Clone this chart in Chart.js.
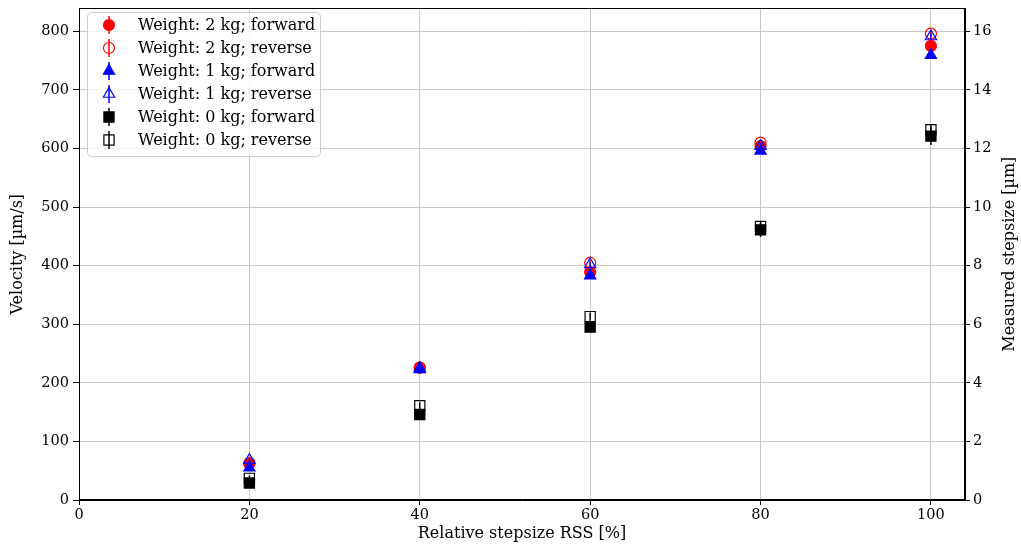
<!DOCTYPE html>
<html>
<head>
<meta charset="utf-8">
<script src="https://cdn.jsdelivr.net/npm/chart.js@4.4.1/dist/chart.umd.min.js"></script>
<style>
html,body{margin:0;padding:0;background:#fff;}
#wrap{width:1021px;height:548px;position:relative;}
</style>
</head>
<body>
<div id="wrap"><canvas id="c" width="1021" height="548"></canvas></div>
<script>
const rss = [20, 40, 60, 80, 100];
const vel2kgFwd = [63, 226, 389, 604, 775];
const vel2kgRev = [62, 226, 405, 610, 796];
const vel1kgFwd = [55, 223, 383, 596, 759];
const vel1kgRev = [68, 225, 402, 604, 791];
const vel0kgFwd = [29, 146, 295, 461, 621];
const vel0kgRev = [37, 161, 313, 467, 632];
const err2kgFwd = [3, 3, 4, 4, 5];
const err2kgRev = [3, 3, 4, 4, 5];
const err1kgFwd = [3, 3, 4, 4, 5];
const err1kgRev = [3, 3, 4, 4, 5];
const err0kgFwd = [6, 7, 8, 12, 15];
const err0kgRev = [5, 6, 7, 8, 9];
const xTicks = [0, 20, 40, 60, 80, 100];
const yTicks = [0, 100, 200, 300, 400, 500, 600, 700, 800];
const y2Ticks = [0, 2, 4, 6, 8, 10, 12, 14, 16];
const labels = ['Weight: 2 kg; forward','Weight: 2 kg; reverse','Weight: 1 kg; forward','Weight: 1 kg; reverse','Weight: 0 kg; forward','Weight: 0 kg; reverse'];

const series = [
  {v: vel2kgFwd, e: err2kgFwd, color: '#ff0000', style: 'circle', fill: true, r: 5.5},
  {v: vel2kgRev, e: err2kgRev, color: '#ff0000', style: 'circle', fill: false, r: 5.5},
  {v: vel1kgFwd, e: err1kgFwd, color: '#0000ff', style: 'triangle', fill: true, r: 6.5},
  {v: vel1kgRev, e: err1kgRev, color: '#0000ff', style: 'triangle', fill: false, r: 6.5},
  {v: vel0kgFwd, e: err0kgFwd, color: '#000000', style: 'rect', fill: true, r: 7.2},
  {v: vel0kgRev, e: err0kgRev, color: '#000000', style: 'rect', fill: false, r: 7.2},
];

const datasets = series.map((s, i) => ({
  label: labels[i],
  data: rss.map((x, k) => ({x: x, y: s.v[k]})),
  errors: s.e,
  pointStyle: s.style,
  pointRadius: s.r,
  pointHoverRadius: s.r,
  borderColor: s.color,
  backgroundColor: s.fill ? s.color : 'rgba(0,0,0,0)',
  borderWidth: 1.2,
  order: 10 - i,
  yAxisID: 'y'
}));

const errPlugin = {
  id: 'errbars',
  beforeDatasetDraw(chart, args) {
    const ds = chart.data.datasets[args.index];
    const ys = chart.scales.y, xs = chart.scales.x;
    const ctx = chart.ctx;
    ctx.save();
    ctx.strokeStyle = ds.borderColor;
    ctx.lineWidth = 1.5;
    ds.data.forEach((p, k) => {
      const px = xs.getPixelForValue(p.x);
      const y1 = ys.getPixelForValue(p.y - ds.errors[k]);
      const y2 = ys.getPixelForValue(p.y + ds.errors[k]);
      ctx.beginPath(); ctx.moveTo(px, y1); ctx.lineTo(px, y2); ctx.stroke();
    });
    ctx.restore();
  }
};

function roundRect(ctx, x, y, w, h, r) {
  ctx.beginPath();
  ctx.moveTo(x + r, y);
  ctx.lineTo(x + w - r, y); ctx.arcTo(x + w, y, x + w, y + r, r);
  ctx.lineTo(x + w, y + h - r); ctx.arcTo(x + w, y + h, x + w - r, y + h, r);
  ctx.lineTo(x + r, y + h); ctx.arcTo(x, y + h, x, y + h - r, r);
  ctx.lineTo(x, y + r); ctx.arcTo(x, y, x + r, y, r);
  ctx.closePath();
}

function vText(ctx, text, x, y) {
  ctx.save();
  ctx.fillStyle = '#000';
  ctx.font = '16px "DejaVu Serif"';
  ctx.textAlign = 'center';
  ctx.textBaseline = 'middle';
  ctx.translate(x, y);
  ctx.rotate(-Math.PI / 2);
  ctx.fillText(text, 0, 0);
  ctx.restore();
}

const framePlugin = {
  id: 'frame',
  afterDraw(chart) {
    const ctx = chart.ctx, a = chart.chartArea;
    ctx.save();
    ctx.strokeStyle = '#000';
    ctx.lineWidth = 1;
    ctx.strokeRect(Math.round(a.left) + 0.5, Math.round(a.top) + 0.5, Math.round(a.right - a.left) - 1, Math.round(a.bottom - a.top) - 1);
    ctx.restore();
    vText(ctx, 'Velocity [\u00b5m/s]', 18, (a.top + a.bottom) / 2);
    vText(ctx, 'Measured stepsize [\u00b5m]', 1010, (a.top + a.bottom) / 2);

    ctx.save();
    const lx = 87, ly = 12, lw = 233, lh = 144;
    roundRect(ctx, lx + 0.5, ly + 0.5, lw, lh, 4);
    ctx.fillStyle = 'rgba(255,255,255,0.8)';
    ctx.fill();
    ctx.strokeStyle = '#cccccc';
    ctx.lineWidth = 1;
    ctx.stroke();
    chart.data.datasets.forEach((ds, i) => {
      const cy = 25 + i * 23;
      const cx = 109;
      ctx.strokeStyle = ds.borderColor;
      ctx.lineWidth = 1.5;
      ctx.beginPath(); ctx.moveTo(cx, cy - 9); ctx.lineTo(cx, cy + 9); ctx.stroke();
      ctx.lineWidth = 1.2;
      ctx.fillStyle = ds.backgroundColor;
      Chart.helpers.drawPoint(ctx, {pointStyle: ds.pointStyle, radius: ds.pointRadius, borderWidth: 1.2, rotation: 0}, cx, cy);
      ctx.fillStyle = '#000';
      ctx.font = '16px "DejaVu Serif"';
      ctx.textAlign = 'left';
      ctx.textBaseline = 'middle';
      ctx.fillText(ds.label, 138, cy + 1);
    });
    ctx.restore();
  }
};

const tickFont = {family: '"DejaVu Serif"', size: 14.5};
const yTickFont = {family: '"DejaVu Serif"', size: 14.5, lineHeight: 0.1};
const titleFont = {family: '"DejaVu Serif"', size: 16};

new Chart(document.getElementById('c'), {
  type: 'scatter',
  data: {datasets: datasets},
  options: {
    responsive: false,
    animation: false,
    devicePixelRatio: 1,
    layout: {padding: {top: 5, left: 0, right: 0, bottom: 0}},
    plugins: {legend: {display: false}, tooltip: {enabled: false}},
    scales: {
      x: {
        type: 'linear', min: 0, max: 104,
        afterFit(s) { s.height = 48; },
        afterBuildTicks(s) { s.ticks = xTicks.map(v => ({value: v})); },
        ticks: {font: tickFont, color: '#000', padding: 2, maxRotation: 0, includeBounds: false},
        grid: {color: '#c8c8c8', lineWidth: 1, tickColor: '#000', tickLength: 5, drawTicks: true},
        border: {color: '#000', width: 1},
        title: {display: true, text: 'Relative stepsize RSS [%]', font: titleFont, color: '#000', padding: {top: 0, bottom: 5}}
      },
      y: {
        type: 'linear', position: 'left', min: 0, max: 839,
        afterFit(s) { s.width = 79; },
        afterBuildTicks(s) { s.ticks = yTicks.map(v => ({value: v})); },
        ticks: {font: yTickFont, color: '#000', padding: 4, includeBounds: false},
        grid: {color: '#c8c8c8', lineWidth: 1, tickColor: '#000', tickLength: 6, drawTicks: true},
        border: {color: '#000', width: 1},
        title: {display: false}
      },
      y2: {
        type: 'linear', position: 'right', min: 0, max: 16.78,
        afterFit(s) { s.width = 56; },
        afterBuildTicks(s) { s.ticks = y2Ticks.map(v => ({value: v})); },
        ticks: {font: yTickFont, color: '#000', padding: 3, includeBounds: false},
        grid: {drawOnChartArea: false, tickColor: '#000', tickLength: 5, drawTicks: true},
        border: {color: '#000', width: 1},
        title: {display: false}
      }
    }
  },
  plugins: [errPlugin, framePlugin]
});
</script>
</body>
</html>
